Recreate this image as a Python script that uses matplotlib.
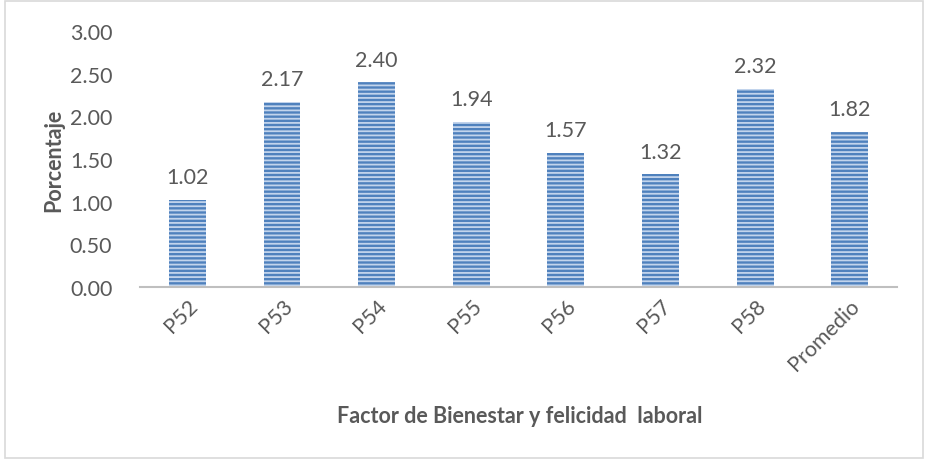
import matplotlib
matplotlib.use("Agg")
import matplotlib.pyplot as plt
from matplotlib.patches import Rectangle

# Data
categories = ["P52", "P53", "P54", "P55", "P56", "P57", "P58", "Promedio"]
values = [1.02, 2.17, 2.40, 1.94, 1.57, 1.32, 2.32, 1.82]
y_ticks = [0.0, 0.5, 1.0, 1.5, 2.0, 2.5, 3.0]

plt.rcParams['font.family'] = ['Lato', 'DejaVu Sans']
plt.rcParams['hatch.linewidth'] = 1.3
text_color = '#595959'

fig = plt.figure(figsize=(9.28, 4.6), dpi=100)
ax = fig.add_axes([0.151, 0.374, 0.8156, 0.556])

x = range(len(categories))
bars = ax.bar(x, values, width=0.39, color='#4F81BD', edgecolor='#C2D4EC',
              linewidth=0, hatch='----', zorder=2)

for xi, v in zip(x, values):
    ax.text(xi, v + 0.15, f"{v:.2f}", ha='center', va='bottom',
            fontsize=15.5, color=text_color)

ax.set_xlim(-0.5, len(categories) - 0.5)
ax.set_ylim(0, 3.0)
ax.set_yticks(y_ticks)
ax.set_yticklabels([f"{t:.2f}" for t in y_ticks])
ax.set_xticks(list(x))
ax.set_xticklabels(categories, rotation=45, ha='right', rotation_mode='anchor')

ax.tick_params(axis='y', length=0, labelsize=15.5, labelcolor=text_color, pad=20)
ax.tick_params(axis='x', length=0, labelsize=15.5, labelcolor=text_color, pad=6)

for side in ['top', 'right', 'left']:
    ax.spines[side].set_visible(False)
ax.spines['bottom'].set_color('#BFBFBF')
ax.spines['bottom'].set_linewidth(1.5)

ax.set_ylabel("Porcentaje", fontsize=15.5, fontweight='bold', color=text_color, labelpad=4)
fig.text(0.560, 0.095, "Factor de Bienestar y felicidad  laboral", ha='center',
         va='center', fontsize=15.5, fontweight='bold', color=text_color)

# light outer frame around the chart
fig.patches.append(Rectangle((0.005, 0.002), 0.99, 0.993, transform=fig.transFigure,
                             fill=False, edgecolor='#D9D9D9', linewidth=1.2))

fig.savefig("out.png", dpi=100)
